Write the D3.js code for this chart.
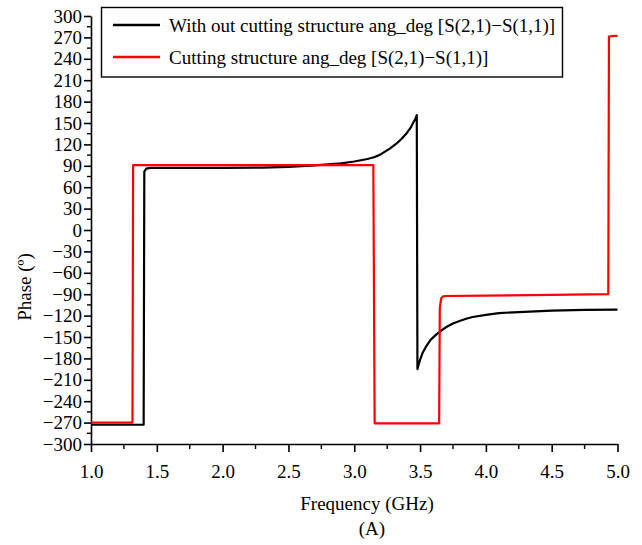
<!DOCTYPE html>
<html>
<head>
<meta charset="utf-8">
<script src="https://cdn.jsdelivr.net/npm/d3@7"></script>
<style>
  html, body { margin: 0; padding: 0; background: #fff; }
  svg { display: block; }
  text { font-family: "Liberation Serif", "Times New Roman", Times, serif; fill: #000; }
</style>
</head>
<body>
<svg id="chart" width="642" height="545" font-family="Liberation Serif, serif"></svg>
<script>
// ---- Data ----
const seriesNames = [
  "With out cutting structure ang_deg [S(2,1)\u2212S(1,1)]",
  "Cutting structure ang_deg [S(2,1)\u2212S(1,1)]"
];
const seriesColors = ["#000000", "#ff0000"];

// Black: without cutting structure
const freqNoCut = [1.0, 1.2, 1.40, 1.405, 1.42, 1.45, 1.6, 2.0, 2.3, 2.5, 2.7, 2.9, 3.0, 3.1, 3.15, 3.2, 3.27, 3.32, 3.36, 3.40, 3.43, 3.45, 3.465, 3.475, 3.48, 3.49, 3.50, 3.52, 3.55, 3.58, 3.62, 3.66, 3.70, 3.75, 3.80, 3.85, 3.90, 4.0, 4.1, 4.25, 4.5, 4.75, 5.0];
const phaseNoCut = [-273, -273, -273, 82, 86, 87, 87, 87, 87.5, 88.5, 90.5, 93.5, 96, 99.5, 102, 106, 114, 121, 128, 136, 144, 151, 156, 161, -195, -188, -182, -172, -162, -154, -147, -141, -136, -131, -127.5, -124.5, -122, -119, -116.5, -115, -113, -112, -111.5];

// Red: cutting structure
const freqCut = [1.0, 1.2, 1.315, 1.32, 1.6, 2.0, 2.5, 3.0, 3.145, 3.155, 3.4, 3.645, 3.65, 3.66, 3.675, 3.7, 4.0, 4.5, 4.93, 4.935, 4.96, 5.0];
const phaseCut = [-270, -270, -270, 91, 91, 91, 91, 91, 91, -271, -271, -271, -110, -96, -93, -92.5, -92, -91, -90, 271, 272, 272];

const xTicks = [1.0, 1.5, 2.0, 2.5, 3.0, 3.5, 4.0, 4.5, 5.0];
const yTicks = [-300, -270, -240, -210, -180, -150, -120, -90, -60, -30, 0, 30, 60, 90, 120, 150, 180, 210, 240, 270, 300];
const xLabel = "Frequency (GHz)";
const yLabel = "Phase (\u00ba)";
const caption = "(A)";

// ---- Layout ----
const svg = d3.select("#chart");
const mLeft = 91, mRight = 617.5, mTop = 16, mBottom = 444;
const FS = 19;
const FF = "'Liberation Serif', 'Times New Roman', serif";

const x = d3.scaleLinear().domain([1, 5]).range([mLeft, mRight]);
const y = d3.scaleLinear().domain([-300, 300]).range([mBottom, mTop]);

const fmtX = d3.format(".1f");
const fmtY = v => d3.format("")(v);

// minor ticks
const xMinor = d3.range(1.25, 5, 0.5);
const yMinor = d3.range(-285, 300, 30);

// X axis
const gx = svg.append("g").attr("transform", `translate(0,${mBottom})`);
gx.call(d3.axisBottom(x).tickValues(xTicks).tickFormat(fmtX).tickSizeInner(8).tickSizeOuter(0).tickPadding(12));
gx.attr("font-family", FF);
gx.select(".domain").attr("stroke", "#000").attr("stroke-width", 1.6);
gx.selectAll(".tick line").attr("stroke", "#000").attr("stroke-width", 1.6);
gx.selectAll(".tick text").style("font-size", FS + "px").style("font-family", FF).attr("dy", null).attr("y", 34);
gx.selectAll(".minor").data(xMinor).enter().append("line")
  .attr("x1", d => x(d)).attr("x2", d => x(d)).attr("y1", 0).attr("y2", 5)
  .attr("stroke", "#000").attr("stroke-width", 1.4);

// Y axis
const gy = svg.append("g").attr("transform", `translate(${mLeft},0)`);
gy.call(d3.axisLeft(y).tickValues(yTicks).tickFormat(fmtY).tickSizeInner(7).tickSizeOuter(0).tickPadding(2));
gy.attr("font-family", FF);
gy.select(".domain").attr("stroke", "#000").attr("stroke-width", 1.6);
gy.selectAll(".tick line").attr("stroke", "#000").attr("stroke-width", 1.6);
gy.selectAll(".tick text").style("font-size", FS + "px").style("font-family", FF);
gy.selectAll(".minor").data(yMinor).enter().append("line")
  .attr("x1", -4).attr("x2", 0).attr("y1", d => y(d)).attr("y2", d => y(d))
  .attr("stroke", "#000").attr("stroke-width", 1.4);

// Axis labels
svg.append("text").attr("x", 367).attr("y", 510).attr("text-anchor", "middle")
  .style("font-size", FS + "px").style("font-family", FF).text(xLabel);
svg.append("text").attr("x", 372).attr("y", 535).attr("text-anchor", "middle")
  .style("font-size", FS + "px").style("font-family", FF).text(caption);
svg.append("text").attr("transform", "translate(31,287) rotate(-90)").attr("text-anchor", "middle")
  .style("font-size", FS + "px").style("font-family", FF).text(yLabel);

// Lines
const line = d3.line().x(d => x(d[0])).y(d => y(d[1]));
const plot = svg.append("g");
plot.append("path").datum(d3.zip(freqNoCut, phaseNoCut))
  .attr("d", line).attr("fill", "none").attr("stroke", seriesColors[0]).attr("stroke-width", 2.2)
  .attr("stroke-linejoin", "round");
plot.append("path").datum(d3.zip(freqCut, phaseCut))
  .attr("d", line).attr("fill", "none").attr("stroke", seriesColors[1]).attr("stroke-width", 2.2)
  .attr("stroke-linejoin", "round");

// Legend
const lg = svg.append("g");
lg.append("rect").attr("x", 101.5).attr("y", 7.5).attr("width", 461).attr("height", 69.5)
  .attr("fill", "#fff").attr("stroke", "#000").attr("stroke-width", 1.4);
seriesNames.forEach((name, i) => {
  const yy = 25 + i * 32;
  lg.append("line").attr("x1", 113).attr("x2", 160).attr("y1", yy).attr("y2", yy)
    .attr("stroke", seriesColors[i]).attr("stroke-width", 2.6);
  lg.append("text").attr("x", 169).attr("y", yy + 6.5).style("font-size", FS + "px").style("font-family", FF).text(name);
});
</script>
</body>
</html>
